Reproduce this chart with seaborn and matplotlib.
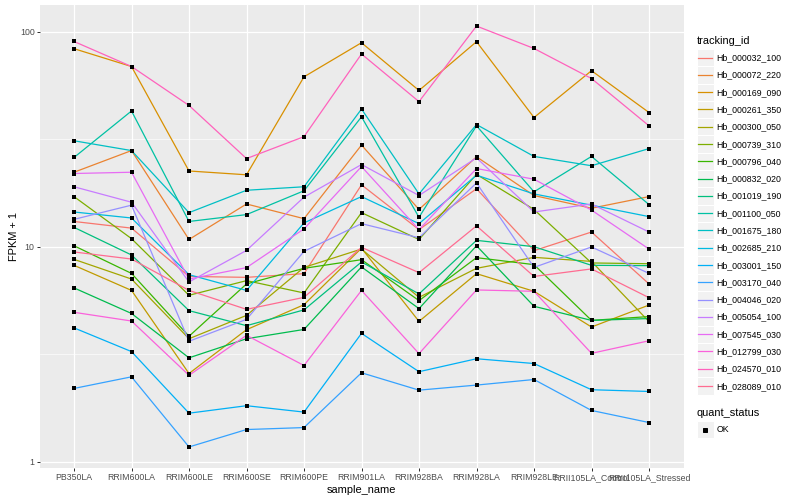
import numpy as np
import pandas as pd
import matplotlib
matplotlib.use("Agg")
import matplotlib.pyplot as plt
from matplotlib.patches import Rectangle
from matplotlib.lines import Line2D
from matplotlib.legend_handler import HandlerBase
from matplotlib.ticker import FixedLocator, NullFormatter
import seaborn as sns

# ============================================================
# 数据 (从图中读取的 FPKM + 1)
# ============================================================
samples = ['PB350LA', 'RRIM600LA', 'RRIM600LE', 'RRIM600SE', 'RRIM600PE',
           'RRIM901LA', 'RRIM928BA', 'RRIM928LA', 'RRIM928LE',
           'RRII105LA_Control', 'RRII105LA_Stressed']

tracking_ids = ['Hb_000032_100', 'Hb_000072_220', 'Hb_000169_090', 'Hb_000261_350',
                'Hb_000300_050', 'Hb_000739_310', 'Hb_000796_040', 'Hb_000832_020',
                'Hb_001019_190', 'Hb_001100_050', 'Hb_001675_180', 'Hb_002685_210',
                'Hb_003001_150', 'Hb_003170_040', 'Hb_004046_020', 'Hb_005054_100',
                'Hb_007545_030', 'Hb_012799_030', 'Hb_024570_010', 'Hb_028089_010']

fpkm_000032_100 = [13.1, 12.2, 7.27, 7.20, 7.49, 19.4, 12.0, 18.6, 9.58, 11.7, 6.71]
fpkm_000072_220 = [22.2, 28.0, 10.8, 15.8, 13.5, 29.7, 14.9, 26.2, 17.3, 15.1, 17.1]
fpkm_000169_090 = [83.4, 68.9, 22.5, 21.6, 61.7, 88.9, 53.3, 89.9, 39.9, 65.9, 42.1]
fpkm_000261_350 = [8.19, 6.26, 2.57, 4.11, 5.37, 9.84, 4.49, 7.49, 6.20, 4.23, 5.35]
fpkm_000300_050 = [8.73, 7.07, 3.73, 4.79, 8.01, 9.75, 5.81, 7.93, 8.92, 8.54, 4.48]
fpkm_000739_310 = [17.1, 10.9, 5.94, 6.95, 6.09, 14.4, 10.8, 21.7, 14.9, 8.40, 8.33]
fpkm_000796_040 = [10.1, 7.51, 3.83, 6.71, 7.93, 8.70, 5.61, 8.89, 8.25, 4.54, 4.73]
fpkm_000832_020 = [6.43, 4.89, 3.04, 3.73, 4.12, 8.05, 5.15, 10.1, 5.28, 4.54, 4.63]
fpkm_001019_190 = [12.3, 9.15, 5.04, 4.29, 5.08, 8.49, 6.03, 10.7, 10.0, 8.19, 8.16]
fpkm_001100_050 = [26.0, 42.8, 13.1, 14.1, 18.2, 40.2, 13.7, 36.5, 18.0, 26.3, 15.7]
fpkm_001675_180 = [31.1, 28.0, 14.4, 18.3, 19.0, 43.7, 17.6, 37.0, 26.3, 23.8, 28.6]
fpkm_002685_210 = [14.5, 13.6, 7.41, 6.26, 12.9, 17.1, 12.8, 21.5, 17.6, 15.6, 13.8]
fpkm_003001_150 = [4.19, 3.25, 1.68, 1.82, 1.70, 3.95, 2.62, 3.01, 2.86, 2.16, 2.12]
fpkm_003170_040 = [2.19, 2.48, 1.17, 1.41, 1.44, 2.59, 2.15, 2.27, 2.41, 1.73, 1.52]
fpkm_004046_020 = [13.4, 15.6, 3.63, 4.59, 9.51, 12.8, 11.0, 19.8, 8.01, 9.97, 7.51]
fpkm_005054_100 = [19.0, 16.1, 6.85, 9.61, 17.0, 24.1, 17.3, 25.9, 14.5, 15.8, 11.7]
fpkm_007545_030 = [21.9, 22.2, 7.07, 7.99, 12.1, 23.6, 12.0, 23.1, 20.6, 14.8, 9.75]
fpkm_012799_030 = [4.95, 4.51, 2.52, 3.87, 2.80, 6.26, 3.18, 6.29, 6.20, 3.19, 3.65]
fpkm_024570_010 = [90.1, 68.9, 45.4, 25.7, 32.5, 78.8, 47.3, 106.3, 83.6, 60.6, 36.5]
fpkm_028089_010 = [9.45, 8.76, 6.26, 5.11, 5.81, 9.93, 7.57, 12.5, 7.27, 7.88, 5.79]

series = [fpkm_000032_100, fpkm_000072_220, fpkm_000169_090, fpkm_000261_350,
          fpkm_000300_050, fpkm_000739_310, fpkm_000796_040, fpkm_000832_020,
          fpkm_001019_190, fpkm_001100_050, fpkm_001675_180, fpkm_002685_210,
          fpkm_003001_150, fpkm_003170_040, fpkm_004046_020, fpkm_005054_100,
          fpkm_007545_030, fpkm_012799_030, fpkm_024570_010, fpkm_028089_010]

y_ticks = [1, 10, 100]
y_tick_labels = ['1', '10', '100']

# ggplot2 默认色盘 hue_pal()(20)
colors = ['#F8766D', '#EA8331', '#D89000', '#C09B00', '#A3A500', '#7CAE00', '#39B600',
          '#00BB4E', '#00BF7D', '#00C1A3', '#00BFC4', '#00BAE0', '#00B0F6', '#35A2FF',
          '#9590FF', '#C77CFF', '#E76BF3', '#FA62DB', '#FF62BC', '#FF6C91']

LW = 1.25

# ============================================================
# 整理成长表
# ============================================================
rows = []
for tid, vals in zip(tracking_ids, series):
    for i, v in enumerate(vals):
        rows.append({'pos': i, 'sample_name': samples[i], 'tracking_id': tid,
                     'fpkm': v, 'quant_status': 'OK'})
df = pd.DataFrame(rows)


class KeyHandler(HandlerBase):
    """ggplot 风格的图例键: 灰底方块 + 居中的线/点"""
    def create_artists(self, legend, orig_handle, xdescent, ydescent,
                       width, height, fontsize, trans):
        x0, y0 = -xdescent, -ydescent
        rect = Rectangle((x0, y0), width, height, facecolor='#F2F2F2',
                         edgecolor='white', lw=1, transform=trans)
        yc = y0 + height / 2
        if orig_handle.get_marker() not in (None, 'None', ''):
            art = Line2D([x0 + width / 2], [yc], color='black', marker='s',
                         ls='None', markersize=4, transform=trans)
        else:
            art = Line2D([x0 + 1.5, x0 + width - 1.5], [yc, yc],
                         color=orig_handle.get_color(), lw=LW, transform=trans)
        return [rect, art]


# ============================================================
# 绘图 (ggplot theme_grey 风格)
# ============================================================
plt.rcParams['font.family'] = ['Liberation Sans', 'DejaVu Sans']
W, H, DPI = 800, 500, 72
fig = plt.figure(figsize=(W / DPI, H / DPI), dpi=DPI)
fig.patch.set_facecolor('white')
ax = fig.add_axes([39.5 / W, 32 / H, 644 / W, 463 / H])
ax.set_facecolor('#EBEBEB')

sns.lineplot(data=df, x='pos', y='fpkm', hue='tracking_id', hue_order=tracking_ids,
             palette=colors, sort=False, estimator=None, legend=False, lw=LW, ax=ax)
sns.scatterplot(data=df, x='pos', y='fpkm', color='black', marker='s', s=14,
                linewidth=0, legend=False, ax=ax, zorder=5)

ax.set_yscale('log')
lo, hi = np.log10(df['fpkm'].min()), np.log10(df['fpkm'].max())
pad = (hi - lo) * 0.05
ax.set_ylim(10 ** (lo - pad), 10 ** (hi + pad))
ax.set_xlim(-0.6, len(samples) - 0.4)

ax.set_yticks(y_ticks, labels=y_tick_labels)
ax.yaxis.set_minor_locator(FixedLocator([10 ** 0.5, 10 ** 1.5]))
ax.yaxis.set_minor_formatter(NullFormatter())
ax.set_xticks(range(len(samples)), labels=samples)

for s in ax.spines.values():
    s.set_visible(False)
ax.grid(which='major', color='white', lw=1.3)
ax.grid(which='minor', axis='y', color='white', lw=0.65)
ax.set_axisbelow(True)
ax.tick_params(which='major', length=2.75, width=1.0, color='#333333',
               labelcolor='#4D4D4D', labelsize=8.8, pad=2.2)
ax.tick_params(which='minor', length=0)

ax.set_xlabel('sample_name', fontsize=11, labelpad=3.5)
ax.set_ylabel('FPKM + 1', fontsize=11, labelpad=1)

# 图例 (灰色方块键, 每行 17.28 px)
FS = 8.8
leg_kw = dict(loc='upper left', bbox_transform=fig.transFigure, frameon=False,
              fontsize=FS, title_fontsize=11, handlelength=17.28 / FS,
              handleheight=2.645, labelspacing=0, handletextpad=0.3, borderpad=0,
              borderaxespad=0, alignment='left',
              handler_map={Line2D: KeyHandler()})

handles = [Line2D([], [], color=c, lw=LW) for c in colors]
leg1 = fig.legend(handles, tracking_ids, title='tracking_id',
                  bbox_to_anchor=(696.5 / W, (H - 36) / H), **leg_kw)
leg1._legend_box.sep = 3

ok_handle = Line2D([], [], color='black', marker='s', ls='None')
leg2 = fig.legend([ok_handle], ['OK'], title='quant_status',
                  bbox_to_anchor=(696.5 / W, (H - 408) / H), **leg_kw)
leg2._legend_box.sep = 3

fig.savefig('out.png', dpi=DPI, facecolor='white')
